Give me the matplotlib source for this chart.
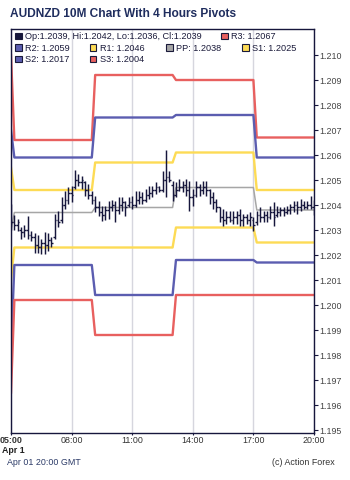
import matplotlib
matplotlib.use('Agg')
import matplotlib.pyplot as plt
from matplotlib.patches import Rectangle
import numpy as np

plt.rcParams['font.family'] = ['Liberation Sans', 'DejaVu Sans']

# ---------------- data ----------------
title = "AUDNZD 10M Chart With 4 Hours Pivots"
start_hour = 5
bar_minutes = 10

opens = [1.20390, 1.20330, 1.20320, 1.20300, 1.20290, 1.20300, 1.20280, 1.20270, 1.20240, 1.20230,
         1.20250, 1.20240, 1.20260, 1.20270, 1.20340, 1.20340, 1.20400, 1.20420, 1.20450, 1.20470,
         1.20500, 1.20490, 1.20490, 1.20460, 1.20440, 1.20420, 1.20390, 1.20370, 1.20360, 1.20380,
         1.20390, 1.20400, 1.20380, 1.20400, 1.20410, 1.20400, 1.20410, 1.20400, 1.20420, 1.20430,
         1.20420, 1.20440, 1.20450, 1.20460, 1.20470, 1.20460, 1.20500, 1.20510, 1.20480, 1.20440,
         1.20460, 1.20470, 1.20480, 1.20460, 1.20430, 1.20440, 1.20470, 1.20460, 1.20470, 1.20460,
         1.20430, 1.20410, 1.20390, 1.20350, 1.20340, 1.20350, 1.20340, 1.20350, 1.20360, 1.20340,
         1.20350, 1.20340, 1.20340, 1.20330, 1.20360, 1.20350, 1.20360, 1.20350, 1.20370, 1.20360,
         1.20370, 1.20380, 1.20370, 1.20380, 1.20390, 1.20400, 1.20390, 1.20400, 1.20390, 1.20400,
         1.20390]
highs = [1.20404, 1.20360, 1.20344, 1.20312, 1.20320, 1.20356, 1.20296, 1.20288, 1.20280, 1.20264,
         1.20292, 1.20288, 1.20272, 1.20364, 1.20376, 1.20432, 1.20456, 1.20472, 1.20476, 1.20540,
         1.20524, 1.20516, 1.20496, 1.20484, 1.20456, 1.20436, 1.20416, 1.20396, 1.20396, 1.20416,
         1.20420, 1.20416, 1.20432, 1.20432, 1.20416, 1.20432, 1.20436, 1.20456, 1.20456, 1.20452,
         1.20464, 1.20476, 1.20476, 1.20492, 1.20476, 1.20536, 1.20620, 1.20536, 1.20496, 1.20492,
         1.20504, 1.20496, 1.20504, 1.20496, 1.20464, 1.20496, 1.20484, 1.20496, 1.20496, 1.20464,
         1.20452, 1.20424, 1.20392, 1.20384, 1.20376, 1.20376, 1.20376, 1.20376, 1.20384, 1.20364,
         1.20364, 1.20372, 1.20352, 1.20376, 1.20392, 1.20376, 1.20376, 1.20396, 1.20412, 1.20396,
         1.20392, 1.20392, 1.20396, 1.20404, 1.20416, 1.20416, 1.20424, 1.20416, 1.20416, 1.20436,
         1.20420]
lows = [1.20300, 1.20300, 1.20296, 1.20264, 1.20272, 1.20264, 1.20256, 1.20208, 1.20208, 1.20204,
        1.20204, 1.20216, 1.20232, 1.20264, 1.20312, 1.20328, 1.20384, 1.20404, 1.20412, 1.20464,
        1.20476, 1.20464, 1.20436, 1.20424, 1.20404, 1.20372, 1.20356, 1.20336, 1.20340, 1.20344,
        1.20376, 1.20332, 1.20364, 1.20376, 1.20356, 1.20392, 1.20384, 1.20392, 1.20404, 1.20404,
        1.20412, 1.20424, 1.20432, 1.20444, 1.20452, 1.20452, 1.20432, 1.20492, 1.20416, 1.20432,
        1.20456, 1.20452, 1.20436, 1.20376, 1.20396, 1.20432, 1.20436, 1.20444, 1.20436, 1.20404,
        1.20384, 1.20372, 1.20332, 1.20316, 1.20324, 1.20332, 1.20324, 1.20324, 1.20316, 1.20316,
        1.20324, 1.20316, 1.20296, 1.20320, 1.20332, 1.20332, 1.20332, 1.20344, 1.20316, 1.20352,
        1.20356, 1.20356, 1.20364, 1.20364, 1.20372, 1.20364, 1.20376, 1.20384, 1.20384, 1.20384,
        1.20360]
closes = [1.20330, 1.20320, 1.20330, 1.20290, 1.20300, 1.20280, 1.20270, 1.20240, 1.20230, 1.20250,
          1.20240, 1.20260, 1.20250, 1.20340, 1.20330, 1.20400, 1.20420, 1.20450, 1.20440, 1.20500,
          1.20490, 1.20500, 1.20460, 1.20440, 1.20420, 1.20390, 1.20370, 1.20360, 1.20380, 1.20390,
          1.20400, 1.20380, 1.20400, 1.20410, 1.20390, 1.20410, 1.20400, 1.20420, 1.20430, 1.20420,
          1.20440, 1.20450, 1.20460, 1.20470, 1.20460, 1.20500, 1.20510, 1.20500, 1.20440, 1.20460,
          1.20470, 1.20480, 1.20460, 1.20430, 1.20440, 1.20470, 1.20460, 1.20470, 1.20460, 1.20430,
          1.20410, 1.20390, 1.20350, 1.20340, 1.20350, 1.20340, 1.20350, 1.20360, 1.20340, 1.20350,
          1.20340, 1.20350, 1.20320, 1.20360, 1.20350, 1.20360, 1.20350, 1.20370, 1.20350, 1.20370,
          1.20380, 1.20370, 1.20380, 1.20390, 1.20400, 1.20390, 1.20400, 1.20390, 1.20400, 1.20390,
          1.20390]

# 4-hour pivot sessions (start hour of each session) and their levels
session_starts = [1, 5, 9, 13, 17]
R3 = [1.2100, 1.2066, 1.2092, 1.2090, 1.2067]
R2 = [1.2070, 1.2059, 1.2075, 1.2076, 1.2059]
R1 = [1.2055, 1.2046, 1.2057, 1.2061, 1.2046]
PP = [1.2030, 1.2037, 1.2039, 1.2047, 1.2038]
S1 = [1.2010, 1.2023, 1.2023, 1.2031, 1.2025]
S2 = [1.1981, 1.2016, 1.2004, 1.2018, 1.2017]
S3 = [1.1965, 1.2002, 1.1988, 1.2004, 1.2004]

xtick_hours = [5, 8, 11, 14, 17, 20]
xtick_labels = ["05:00", "08:00", "11:00", "14:00", "17:00", "20:00"]
ytick_values = [1.195, 1.196, 1.197, 1.198, 1.199, 1.200, 1.201, 1.202,
                1.203, 1.204, 1.205, 1.206, 1.207, 1.208, 1.209, 1.210]
date_label = "Apr 1"
footer_left = "Apr 01 20:00 GMT"
footer_right = "(c) Action Forex"

# ---------------- styles ----------------
RED = '#e8605f'
BLUE = '#5b5db0'
YELLOW = '#fddb55'
GREY = '#a6a6a6'
NAVY = '#16163c'
TITLE_C = '#1f2d5e'

W, H = 350, 481
fig = plt.figure(figsize=(W / 100, H / 100), dpi=100)
ax = fig.add_axes([11 / W, 1 - 434 / H, 303 / W, 404 / H])

times = start_hour + np.arange(len(closes)) * bar_minutes / 60.0
sess_idx = np.searchsorted(np.array(session_starts), times, side='left') - 1

levels = [(R3, RED, 1.7), (R2, BLUE, 1.7), (R1, YELLOW, 1.7), (PP, GREY, 1.1),
          (S1, YELLOW, 1.7), (S2, BLUE, 1.7), (S3, RED, 1.7)]
for vals, col, lw in levels:
    series = np.array(vals)[sess_idx]
    ax.plot(times, series, color=col, lw=lw, zorder=2, solid_joinstyle='round')

# OHLC bars
tick = 0.08
ax.vlines(times, lows, highs, color=NAVY, lw=1.05, zorder=4)
ax.hlines(opens, times - tick, times, color=NAVY, lw=1.0, zorder=4)
ax.hlines(closes, times, times + tick, color=NAVY, lw=1.0, zorder=4)

ax.set_xlim(5, 20)
ax.set_ylim(1.19488, 1.21104)

ax.set_xticks(xtick_hours)
ax.set_xticklabels(xtick_labels)
ax.get_xticklabels()[0].set_fontweight('bold')
ax.grid(axis='x', color='#d6d6de', lw=1.0, zorder=1)
ax.set_axisbelow(True)

ax.yaxis.tick_right()
ax.set_yticks(ytick_values)
ax.set_yticklabels([f"{v:.3f}" for v in ytick_values])

ax.tick_params(axis='x', direction='out', length=1.5, width=0.8, color=NAVY,
               labelsize=6.4, labelcolor='#333333', pad=0.2)
ax.tick_params(axis='y', direction='out', length=3, width=0.8, color=NAVY,
               labelsize=6.4, labelcolor='#444444', pad=1)
for sp in ax.spines.values():
    sp.set_color(NAVY)
    sp.set_linewidth(1.0)

# title
fig.text(10 / W, 1 - 14 / H, title, fontsize=8.6, fontweight='bold', color=TITLE_C,
         ha='left', va='center')

# legend (manual, like the original layout)
def fx(x):
    return x / W

def fy(y):
    return 1 - y / H

sq = 6.5
legend_items = [
    (15, 37, NAVY, f"Op:{opens[-1]:.4f}, Hi:{highs[-1]:.4f}, Lo:{lows[-1]:.4f}, Cl:{closes[-1]:.4f}"),
    (221, 37, RED, f"R3: {R3[-1]:.4f}"),
    (15, 48.5, BLUE, f"R2: {R2[-1]:.4f}"),
    (90, 48.5, YELLOW, f"R1: {R1[-1]:.4f}"),
    (166, 48.5, GREY, f"PP: {PP[-1]:.4f}"),
    (242, 48.5, YELLOW, f"S1: {S1[-1]:.4f}"),
    (15, 60, BLUE, f"S2: {S2[-1]:.4f}"),
    (90, 60, RED, f"S3: {S3[-1]:.4f}"),
]
for x, y, col, txt in legend_items:
    fig.patches.append(Rectangle((fx(x), fy(y + sq / 2)), sq / W, sq / H,
                                 transform=fig.transFigure, facecolor=col,
                                 edgecolor='#1a1a3a', lw=0.8, zorder=6))
    fig.text(fx(x + 10), fy(y), txt, fontsize=6.6, color='#1a1a3a',
             ha='left', va='center', zorder=6)

# date under first tick, footer
fig.text(2 / W, 1 - 451 / H, date_label, fontsize=6.4, fontweight='bold', color='#222222',
         ha='left', va='center')
fig.text(7 / W, 1 - 462.5 / H, footer_left, fontsize=6.4, color='#2b3a67', ha='left', va='center')
fig.text(335 / W, 1 - 462.5 / H, footer_right, fontsize=6.4, color='#333333', ha='right', va='center')

fig.savefig('out.png', dpi=100)
